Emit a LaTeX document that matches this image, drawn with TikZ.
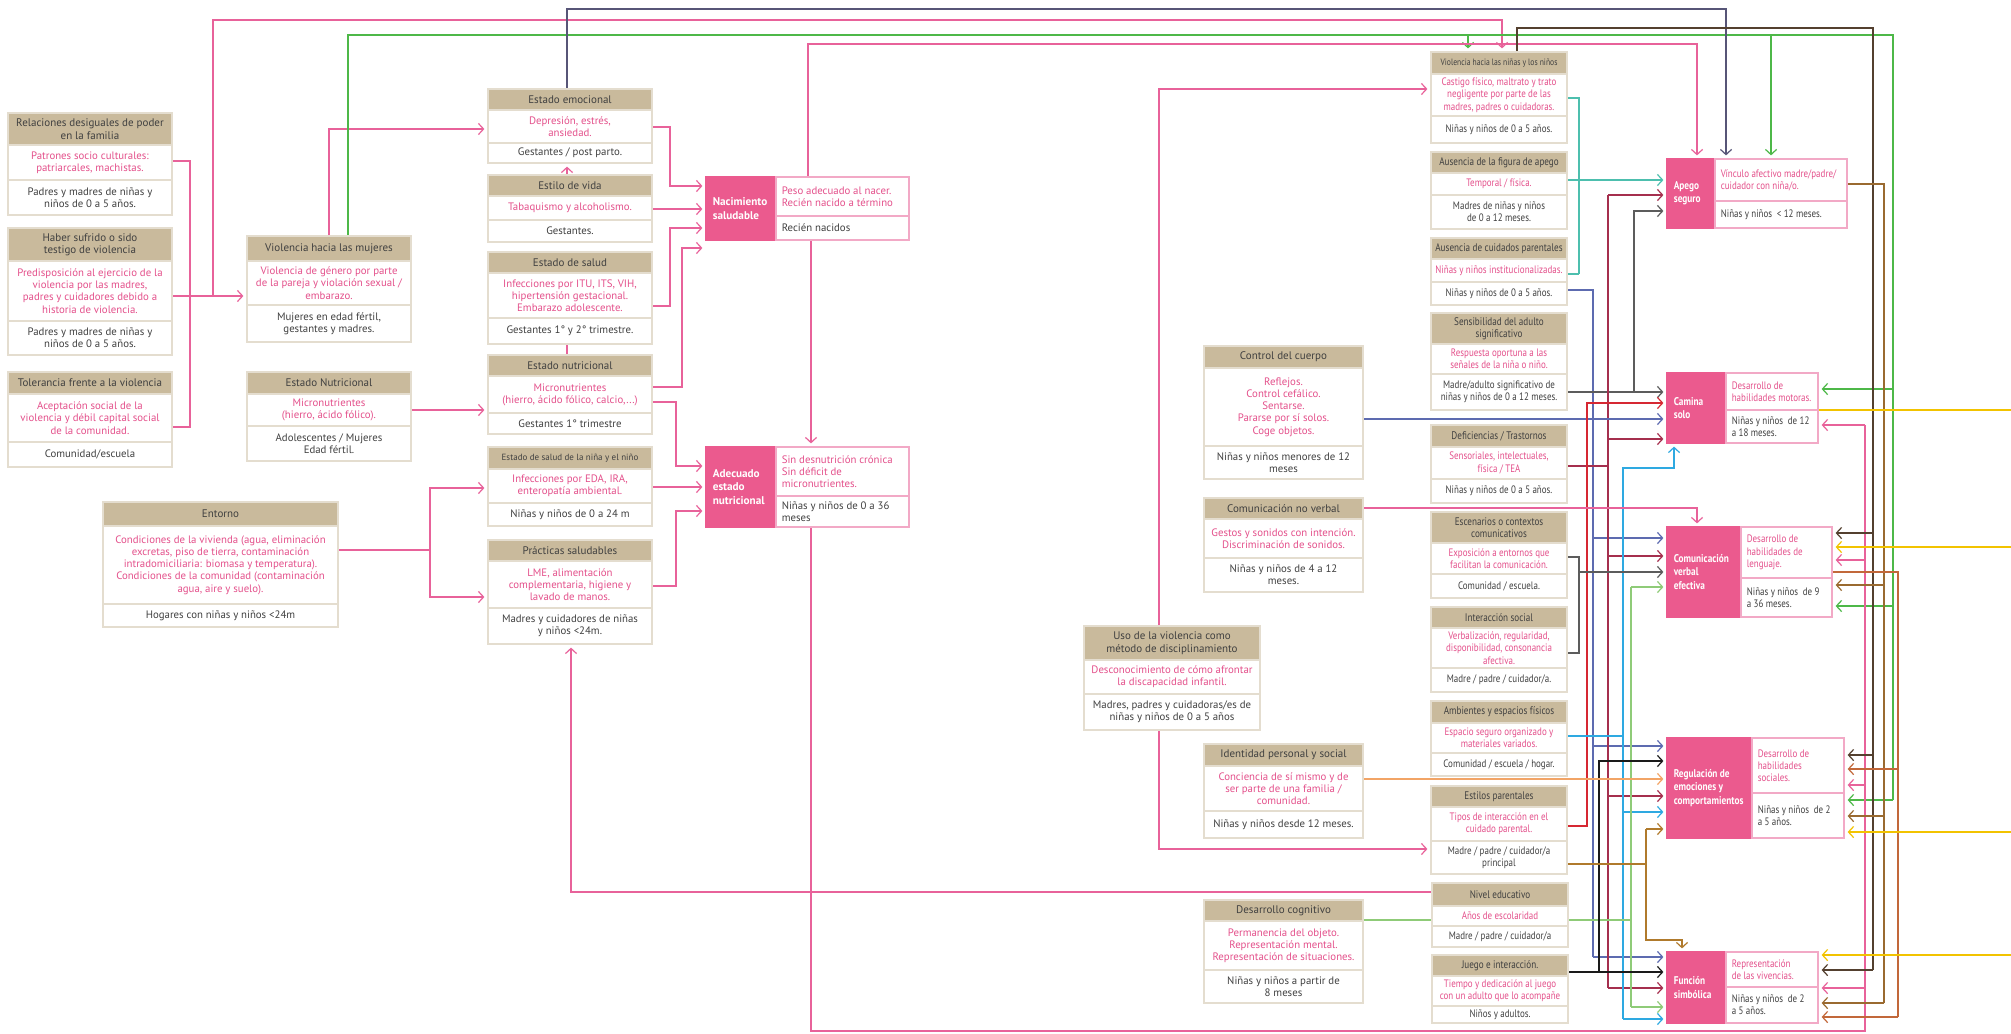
\documentclass[tikz,border=0pt]{standalone}
\usepackage{fontspec}
\setmainfont{PT Sans}
\newfontfamily\condf[FakeStretch=0.83]{PT Sans}
\usetikzlibrary{arrows.meta,backgrounds}
\definecolor{hdrc}{HTML}{C9BA9C}
\definecolor{brd}{HTML}{E4DDCF}
\definecolor{pktext}{HTML}{E4508B}
\definecolor{gytext}{HTML}{404040}
\definecolor{pkfill}{HTML}{EB5A8E}
\definecolor{pkbrd}{HTML}{F2A9C6}
\definecolor{lpink}{HTML}{E8629A}
\definecolor{lgreen}{HTML}{4DB848}
\definecolor{lnavy}{HTML}{575577}
\definecolor{ldbrown}{HTML}{54402F}
\definecolor{lteal}{HTML}{4DBFAE}
\definecolor{lcrim}{HTML}{A52F4E}
\definecolor{lgrey}{HTML}{5C5C5C}
\definecolor{lslate}{HTML}{5D6BB0}
\definecolor{lred}{HTML}{D62832}
\definecolor{lcyan}{HTML}{2EA9E1}
\definecolor{llgreen}{HTML}{8FCB78}
\definecolor{lblack}{HTML}{1A1A1A}
\definecolor{lorange}{HTML}{F2A466}
\definecolor{lochre}{HTML}{B07A2C}
\definecolor{lbrown}{HTML}{9A6A30}
\definecolor{lyellow}{HTML}{F2C300}
\definecolor{lcopper}{HTML}{C2683A}
\def\bxfam{\rmfamily}
\tikzset{
  bxbase/.style={draw=brd, line width=0.6pt, fill=white, inner sep=0.8pt, align=center},
  hdr/.style={bxbase, fill=hdrc, text=gytext, font=\bxfam\fontsize{5.5}{6.2}\selectfont},
  pk/.style={bxbase, text=pktext, font=\bxfam\fontsize{5.4}{6.1}\selectfont},
  gy/.style={bxbase, text=gytext, font=\bxfam\fontsize{5.4}{6.1}\selectfont},
  oLbox/.style={fill=pkfill, draw=pkfill, line width=0.6pt, inner sep=0pt},
  oLtxt/.style={text=white, font=\bxfam\bfseries\fontsize{5.6}{6.6}\selectfont, align=left, inner sep=0pt},
  oRbox/.style={draw=pkbrd, fill=white, line width=0.6pt, inner sep=0pt},
  oRtxt/.style={font=\bxfam\fontsize{5.4}{6.1}\selectfont, align=left, inner sep=0pt},
  cn/.style={line width=0.6pt},
  ar/.style={-{Straight Barb[length=2.6pt,width=5.6pt]}, shorten >=1.5pt},
}
% info box: name, x1, x2, y1, y2, y3, y4, then {header}{pink}{grey}
\newcommand\bx[7]{\def\bxN{#1}\def\bxXa{#2}\def\bxXb{#3}\def\bxYa{#4}\def\bxYb{#5}\def\bxYc{#6}\def\bxYd{#7}\bxdraw}
\newcommand\bxdraw[3]{%
  \pgfmathsetlengthmacro\bxW{(\bxXb-\bxXa)*0.5pt}%
  \pgfmathsetlengthmacro\bxHa{(\bxYb-\bxYa)*0.5pt}%
  \pgfmathsetlengthmacro\bxHb{(\bxYc-\bxYb)*0.5pt}%
  \pgfmathsetlengthmacro\bxHc{(\bxYd-\bxYc)*0.5pt}%
  \pgfmathsetmacro\bxCx{(\bxXa+\bxXb)/2}%
  \node[hdr, minimum width=\bxW, minimum height=\bxHa] (\bxN-h) at (\bxCx,{(\bxYa+\bxYb)/2}) {#1};
  \node[pk, minimum width=\bxW, minimum height=\bxHb] (\bxN-p) at (\bxCx,{(\bxYb+\bxYc)/2}) {#2};
  \node[gy, minimum width=\bxW, minimum height=\bxHc] (\bxN-g) at (\bxCx,{(\bxYc+\bxYd)/2}) {#3};
}
% outcome box: name, x1, x2, x3, y1, y2, y3, then {label}{pink}{grey}
\newcommand\ob[7]{\def\obN{#1}\def\obXa{#2}\def\obXb{#3}\def\obXc{#4}\def\obYa{#5}\def\obYb{#6}\def\obYc{#7}\obdraw}
\newcommand\obdraw[3]{%
  \pgfmathsetlengthmacro\obWl{(\obXb-\obXa)*0.5pt}%
  \pgfmathsetlengthmacro\obWr{(\obXc-\obXb)*0.5pt}%
  \pgfmathsetlengthmacro\obH{(\obYc-\obYa)*0.5pt}%
  \pgfmathsetlengthmacro\obHa{(\obYb-\obYa)*0.5pt}%
  \pgfmathsetlengthmacro\obHb{(\obYc-\obYb)*0.5pt}%
  \node[oLbox, minimum width=\obWl, minimum height=\obH] (\obN-l) at ({(\obXa+\obXb)/2},{(\obYa+\obYc)/2}) {};
  \node[oLtxt, anchor=west] (\obN-lt) at ([xshift=3.5pt]\obN-l.west) {#1};
  \node[oRbox, minimum width=\obWr, minimum height=\obHa] (\obN-p) at ({(\obXb+\obXc)/2},{(\obYa+\obYb)/2}) {};
  \node[oRtxt, text=pktext, anchor=west] (\obN-pt) at ([xshift=3pt]\obN-p.west) {#2};
  \node[oRbox, minimum width=\obWr, minimum height=\obHb] (\obN-g) at ({(\obXb+\obXc)/2},{(\obYb+\obYc)/2}) {};
  \node[oRtxt, text=gytext, anchor=west] (\obN-gt) at ([xshift=3pt]\obN-g.west) {#3};
}
\begin{document}
\begin{tikzpicture}[x=0.5pt,y=-0.5pt]
\useasboundingbox (0,0) rectangle (2011,1033);
% ---------- left column
\bx{rel}{8}{172}{113}{145}{180}{215}{Relaciones desiguales de poder\\en la familia}{Patrones socio culturales:\\patriarcales, machistas.}{Padres y madres de niñas y\\niños de 0 a 5 años.}
\bx{hab}{8}{172}{228}{261}{321}{355}{Haber sufrido o sido\\testigo de violencia}{Predisposición al ejercicio de la\\violencia por las madres,\\padres y cuidadores debido a\\historia de violencia.}{Padres y madres de niñas y\\niños de 0 a 5 años.}
\bx{tol}{8}{172}{372}{394}{442}{467}{Tolerancia frente a la violencia}{Aceptación social de la\\violencia y débil capital social\\de la comunidad.}{Comunidad/escuela}
\bx{vmuj}{247}{411}{236}{261}{305}{342}{Violencia hacia las mujeres}{Violencia de género por parte\\de la pareja y violación sexual /\\embarazo.}{Mujeres en edad fértil,\\gestantes y madres.}
\bx{enut}{247}{411}{372}{394}{426}{461}{Estado Nutricional}{Micronutrientes\\(hierro, ácido fólico).}{Adolescentes / Mujeres\\Edad fértil.}
\bx{ent}{103}{338}{502}{526}{604}{627}{Entorno}{Condiciones de la vivienda (agua, eliminación\\excretas, piso de tierra, contaminación\\intradomiciliaria: biomasa y temperatura).\\Condiciones de la comunidad (contaminación\\agua, aire y suelo).}{Hogares con niñas y niños <24m}
% ---------- centre column
\bx{emo}{488}{652}{89}{110}{143}{163}{Estado emocional}{Depresión, estrés,\\ansiedad.}{Gestantes / post parto.}
\bx{vida}{488}{652}{175}{196}{220}{242}{Estilo de vida}{Tabaquismo y alcoholismo.}{Gestantes.}
\bx{salud}{488}{652}{252}{273}{318}{344}{Estado de salud}{Infecciones por ITU, ITS, VIH,\\hipertensión gestacional.\\Embarazo adolescente.}{Gestantes 1° y 2° trimestre.}
\bx{nut}{488}{652}{355}{376}{413}{434}{Estado nutricional}{Micronutrientes\\(hierro, ácido fólico, calcio,...)}{Gestantes 1° trimestre}
\bx{snino}{488}{652}{447}{469}{503}{526}{{\fontsize{4.5}{5}\selectfont Estado de salud de la niña y el niño}}{Infecciones por EDA, IRA,\\enteropatía ambiental.}{Niñas y niños de 0 a 24 m}
\bx{prac}{488}{652}{540}{561}{608}{644}{Prácticas saludables}{LME, alimentación\\complementaria, higiene y\\lavado de manos.}{Madres y cuidadores de niñas\\y niños <24m.}
\ob{nac}{706}{776}{909}{177}{216}{240}{Nacimiento\\saludable}{Peso adecuado al nacer.\\Recién nacido a término}{Recién nacidos}
\ob{ade}{706}{776}{909}{447}{496}{527}{Adecuado\\estado\\nutricional}{Sin desnutrición crónica\\Sin déficit de\\micronutrientes.}{Niñas y niños de 0 a 36\\meses}
% ---------- middle-right column
\bx{cuerpo}{1204}{1363}{346}{368}{446}{479}{Control del cuerpo}{Reflejos.\\Control cefálico.\\Sentarse.\\Pararse por sí solos.\\Coge objetos.}{Niñas y niños menores de 12\\meses}
\bx{noverb}{1204}{1363}{498}{519}{558}{592}{Comunicación no verbal}{Gestos y sonidos con intención.\\Discriminación de sonidos.}{Niñas y niños de 4 a 12\\meses.}
\bx{uso}{1084}{1260}{626}{660}{694}{730}{Uso de la violencia como\\método de disciplinamiento}{Desconocimiento de cómo afrontar\\la discapacidad infantil.}{Madres, padres y cuidadoras/es de\\niñas y niños de 0 a 5 años}
\bx{ident}{1204}{1363}{744}{766}{811}{838}{Identidad personal y social}{Conciencia de sí mismo y de\\ser parte de una familia /\\comunidad.}{Niñas y niños desde 12 meses.}
\bx{cogn}{1204}{1363}{900}{921}{970}{1003}{Desarrollo cognitivo}{Permanencia del objeto.\\Representación mental.\\Representación de situaciones.}{Niñas y niños a partir de\\8 meses}
% ---------- right column (condensed)
\def\bxfam{\condf}
\bx{vnin}{1431}{1567}{52}{74}{116}{143}{{\fontsize{4.6}{5}\selectfont Violencia hacia las niñas y los niños}}{Castigo físico, maltrato y trato\\negligente por parte de las\\madres, padres o cuidadoras.}{Niñas y niños de 0 a 5 años.}
\bx{ausap}{1431}{1567}{152}{173}{195}{229}{Ausencia de la figura de apego}{Temporal / física.}{Madres de niñas y niños\\de 0 a 12 meses.}
\bx{auscu}{1431}{1567}{238}{259}{282}{305}{Ausencia de cuidados parentales}{Niñas y niños institucionalizadas.}{Niñas y niños de 0 a 5 años.}
\bx{sens}{1431}{1567}{313}{344}{374}{410}{Sensibilidad del adulto\\significativo}{Respuesta oportuna a las\\señales de la niña o niño.}{Madre/adulto significativo de\\niñas y niños de 0 a 12 meses.}
\bx{defi}{1431}{1567}{425}{447}{479}{503}{Deficiencias / Trastornos}{Sensoriales, intelectuales,\\física / TEA}{Niñas y niños de 0 a 5 años.}
\bx{esce}{1431}{1567}{512}{543}{574}{598}{Escenarios o contextos\\comunicativos}{Exposición a entornos que\\facilitan la comunicación.}{Comunidad / escuela.}
\bx{inter}{1431}{1567}{607}{628}{668}{692}{Interacción social}{Verbalización, regularidad,\\disponibilidad, consonancia\\afectiva.}{Madre / padre / cuidador/a.}
\bx{amb}{1431}{1567}{701}{723}{753}{776}{Ambientes y espacios físicos}{Espacio seguro organizado y\\materiales variados.}{Comunidad / escuela / hogar.}
\bx{esti}{1431}{1567}{786}{807}{841}{874}{Estilos parentales}{Tipos de interacción en el\\cuidado parental.}{Madre / padre / cuidador/a\\principal}
\bx{nivel}{1432}{1568}{883}{906}{926}{947}{Nivel educativo}{Años de escolaridad}{Madre / padre / cuidador/a}
\bx{juego}{1432}{1568}{955}{976}{1006}{1023}{Juego e interacción.}{Tiempo y dedicación al juego\\con un adulto que lo acompañe}{Niños y adultos.}
\ob{apego}{1667}{1715}{1847}{159}{201}{228}{Apego\\seguro}{Vínculo afectivo madre/padre/\\cuidador con niña/o.}{Niñas y niños ~< 12 meses.}
\ob{camina}{1667}{1726}{1818}{373}{410}{443}{Camina\\solo}{Desarrollo de\\habilidades motoras.}{Niñas y niños ~de 12\\a 18 meses.}
\ob{comun}{1667}{1741}{1832}{527}{578}{617}{Comunicación\\verbal\\efectiva}{Desarrollo de\\habilidades de\\lenguaje.}{Niñas y niños ~de 9\\a 36 meses.}
\ob{regul}{1667}{1752}{1844}{738}{793}{838}{Regulación de\\emociones y\\comportamientos}{Desarrollo de\\habilidades\\sociales.}{Niñas y niños ~de 2\\a 5 años.}
\ob{func}{1667}{1726}{1818}{952}{987}{1023}{Función\\simbólica}{Representación\\de las vivencias.}{Niñas y niños ~de 2\\a 5 años.}
% ---------- connectors
\begin{pgfonlayer}{background}
\coordinate (j1) at (190,296);
\coordinate (j2) at (213,296);
\draw[cn,lpink] (rel-p.east |- 0,161) -| (j1);
\draw[cn,lpink] (tol-p.east |- 0,427) -| (j1);
\draw[cn,lpink,ar] (hab-p.east |- 0,296) -- (vmuj-p.west |- 0,296);
\draw[cn,lpink,ar] (j2) -- (213,20) -| (vnin-h.north -| 1502,0);
\draw[cn,lpink,ar] (vmuj-h.north -| 329,0) |- (emo-p.west |- 0,129);
% green from Violencia hacia las mujeres
\draw[cn,lgreen] (vmuj-h.north -| 348,0) |- (1893,35) -- (1893,800);
\draw[cn,lgreen,ar] (1468,35) -- (vnin-h.north -| 1468,0);
\draw[cn,lgreen,ar] (1771,35) -- (apego-p.north -| 1771,0);
\draw[cn,lgreen,ar] (1893,389) -- (camina-p.east |- 0,389);
\draw[cn,lgreen,ar] (1893,606) -- (comun-g.east |- 0,606);
\draw[cn,lgreen,ar] (1893,800) -- (regul-g.east |- 0,800);
% navy from Estado emocional
\draw[cn,lnavy,ar] (emo-h.north -| 567,0) |- (1726,9) -- (apego-p.north -| 1726,0);
% Nacimiento -> Apego
\draw[cn,lpink,ar] (nac-p.north -| 808,0) |- (1697,44) -- (apego-l.north -| 1697,0);
% centre column
\draw[cn,lpink,ar] (vida-h.north -| 567,0) -- (emo-g.south -| 567,0);
\draw[cn,lpink] (salud-g.south -| 567,0) -- (nut-h.north -| 567,0);
\draw[cn,lpink,ar] (emo-p.east |- 0,127) -| (670,186) -- (nac-l.west |- 0,186);
\draw[cn,lpink,ar] (vida-p.east |- 0,209) -- (nac-l.west |- 0,209);
\draw[cn,lpink,ar] (salud-p.east |- 0,306) -| (670,228) -- (nac-l.west |- 0,228);
\draw[cn,lpink,ar] (nut-p.east |- 0,387) -| (682,248) -- (nac-l.west |- 0,248);
\draw[cn,lpink,ar] (nut-p.east |- 0,402) -| (676,466) -- (ade-l.west |- 0,466);
\draw[cn,lpink,ar] (snino-p.east |- 0,487) -- (ade-l.west |- 0,487);
\draw[cn,lpink,ar] (prac-p.east |- 0,586) -| (676,511) -- (ade-l.west |- 0,511);
\draw[cn,lpink,ar] (nac-g.south -| 811,0) -- (ade-p.north -| 811,0);
\draw[cn,lpink,ar] (enut-p.east |- 0,410) -- (nut-p.west |- 0,410);
\coordinate (j3) at (430,550);
\draw[cn,lpink] (ent-p.east |- 0,550) -- (j3);
\draw[cn,lpink,ar] (j3) |- (snino-p.west |- 0,488);
\draw[cn,lpink,ar] (j3) |- (prac-p.west |- 0,597);
\draw[cn,lpink,ar] (nivel-h.west |- 0,892) -| (prac-g.south -| 571,0);
% Adecuado -> right outcomes
\draw[cn,lpink] (ade-g.south -| 811,0) |- (1865,1031) -- (1865,425);
\draw[cn,lpink,ar] (1865,425) -- (camina-g.east |- 0,425);
\draw[cn,lpink,ar] (1865,560) -- (comun-p.east |- 0,560);
\draw[cn,lpink,ar] (1865,785) -- (regul-p.east |- 0,785);
\draw[cn,lpink,ar] (1865,988) -- (func-g.east |- 0,988);
% Uso de la violencia
\draw[cn,lpink,ar] (uso-h.north -| 1159,0) |- (vnin-p.west |- 0,89);
\draw[cn,lpink,ar] (uso-g.south -| 1159,0) |- (esti-g.west |- 0,849);
% Violencia ninos dark brown
\draw[cn,ldbrown] (vnin-h.north -| 1517,0) |- (1873,28) -- (1873,970);
\draw[cn,ldbrown,ar] (1873,533) -- (comun-p.east |- 0,533);
\draw[cn,ldbrown,ar] (1873,755) -- (regul-p.east |- 0,755);
\draw[cn,ldbrown,ar] (1873,970) -- (func-p.east |- 0,970);
% teal
\draw[cn,lteal] (vnin-p.east |- 0,98) -| (1579,274);
\draw[cn,lteal] (auscu-p.east |- 0,274) -- (1579,274);
\draw[cn,lteal,ar] (ausap-p.east |- 0,180) -- (apego-l.west |- 0,180);
% slate from Ausencia de cuidados
\draw[cn,lslate] (auscu-g.east |- 0,290) -| (1593,957);
\draw[cn,lslate,ar] (1593,538) -- (comun-l.west |- 0,538);
\draw[cn,lslate,ar] (1593,746) -- (regul-l.west |- 0,746);
\draw[cn,lslate,ar] (1593,957) -- (func-l.west |- 0,957);
% Sensibilidad grey
\draw[cn,lgrey,ar] (sens-g.east |- 0,392) -- (camina-l.west |- 0,392);
\draw[cn,lgrey,ar] (1634,392) |- (apego-l.west |- 0,211);
% Deficiencias crimson
\draw[cn,lcrim] (defi-p.east |- 0,466) -- (1608,466);
\draw[cn,lcrim] (1608,195) -- (1608,988);
\draw[cn,lcrim,ar] (1608,195) -- (apego-l.west |- 0,195);
\draw[cn,lcrim,ar] (1608,439) -- (camina-l.west |- 0,439);
\draw[cn,lcrim,ar] (1608,556) -- (comun-l.west |- 0,556);
\draw[cn,lcrim,ar] (1608,796) -- (regul-l.west |- 0,796);
\draw[cn,lcrim,ar] (1608,988) -- (func-l.west |- 0,988);
% Control del cuerpo
\draw[cn,lslate,ar] (cuerpo-p.east |- 0,419) -- (camina-l.west |- 0,419);
% Estilos parentales red
\draw[cn,lred,ar] (esti-p.east |- 0,826) -| (1587,403) -- (camina-l.west |- 0,403);
% Ambientes cyan
\draw[cn,lcyan] (amb-p.east |- 0,736) -| (1623,1019);
\draw[cn,lcyan,ar] (1623,736) |- (1674,468) -- (camina-l.south -| 1674,0);
\draw[cn,lcyan,ar] (1623,812) -- (regul-l.west |- 0,812);
\draw[cn,lcyan,ar] (1623,1019) -- (func-l.west |- 0,1019);
% Escenarios + Interaccion grey
\draw[cn,lgrey] (esce-p.east |- 0,557) -| (1579,653) -- (inter-p.east |- 0,653);
\draw[cn,lgrey,ar] (1579,572) -- (comun-l.west |- 0,572);
% Nivel educativo + Desarrollo cognitivo light green
\draw[cn,llgreen] (cogn-h.east |- 0,920) -- (nivel-p.west |- 0,920);
\draw[cn,llgreen] (nivel-p.east |- 0,920) -| (1631,587);
\draw[cn,llgreen] (1631,920) -- (1631,1007);
\draw[cn,llgreen,ar] (1631,587) -- (comun-l.west |- 0,587);
\draw[cn,llgreen,ar] (1631,1007) -- (func-l.west |- 0,1007);
% Juego black
\draw[cn,lblack,ar] (juego-h.east |- 0,972) -- (func-l.west |- 0,972);
\draw[cn,lblack,ar] (1599,972) |- (regul-l.west |- 0,761);
% Identidad orange
\draw[cn,lorange,ar] (ident-p.east |- 0,779) -- (regul-l.west |- 0,779);
% Estilos parentales ochre
\draw[cn,lochre] (esti-g.east |- 0,864) -| (1646,829);
\draw[cn,lochre,ar] (1646,829) -- (regul-l.west |- 0,829);
\draw[cn,lochre,ar] (1646,864) |- (1682,940) -- (func-l.north -| 1682,0);
% Comunicacion no verbal
\draw[cn,lpink,ar] (noverb-h.east |- 0,508) -| (comun-l.north -| 1697,0);
% Apego brown
\draw[cn,lbrown] (apego-p.east |- 0,184) -| (1884,1003);
\draw[cn,lbrown,ar] (1884,585) -- (comun-g.east |- 0,585);
\draw[cn,lbrown,ar] (1884,816) -- (regul-g.east |- 0,816);
\draw[cn,lbrown,ar] (1884,1003) -- (func-g.east |- 0,1003);
% Comunicacion verbal copper
\draw[cn,lcopper] (comun-p.east |- 0,572) -| (1898,1017);
\draw[cn,lcopper,ar] (1898,769) -- (regul-p.east |- 0,769);
\draw[cn,lcopper,ar] (1898,1017) -- (func-g.east |- 0,1017);
% Camina solo yellow (runs off the right edge)
\begin{scope}
\clip (0,0) rectangle (2011,1033);
\draw[cn,lyellow] (camina-p.east |- 0,410) -- (2030,410) -- (2030,955);
\draw[cn,lyellow,ar] (2030,547) -- (comun-p.east |- 0,547);
\draw[cn,lyellow,ar] (2030,832) -- (regul-g.east |- 0,832);
\draw[cn,lyellow,ar] (2030,955) -- (func-p.east |- 0,955);
\end{scope}
\end{pgfonlayer}
\end{tikzpicture}
\end{document}
